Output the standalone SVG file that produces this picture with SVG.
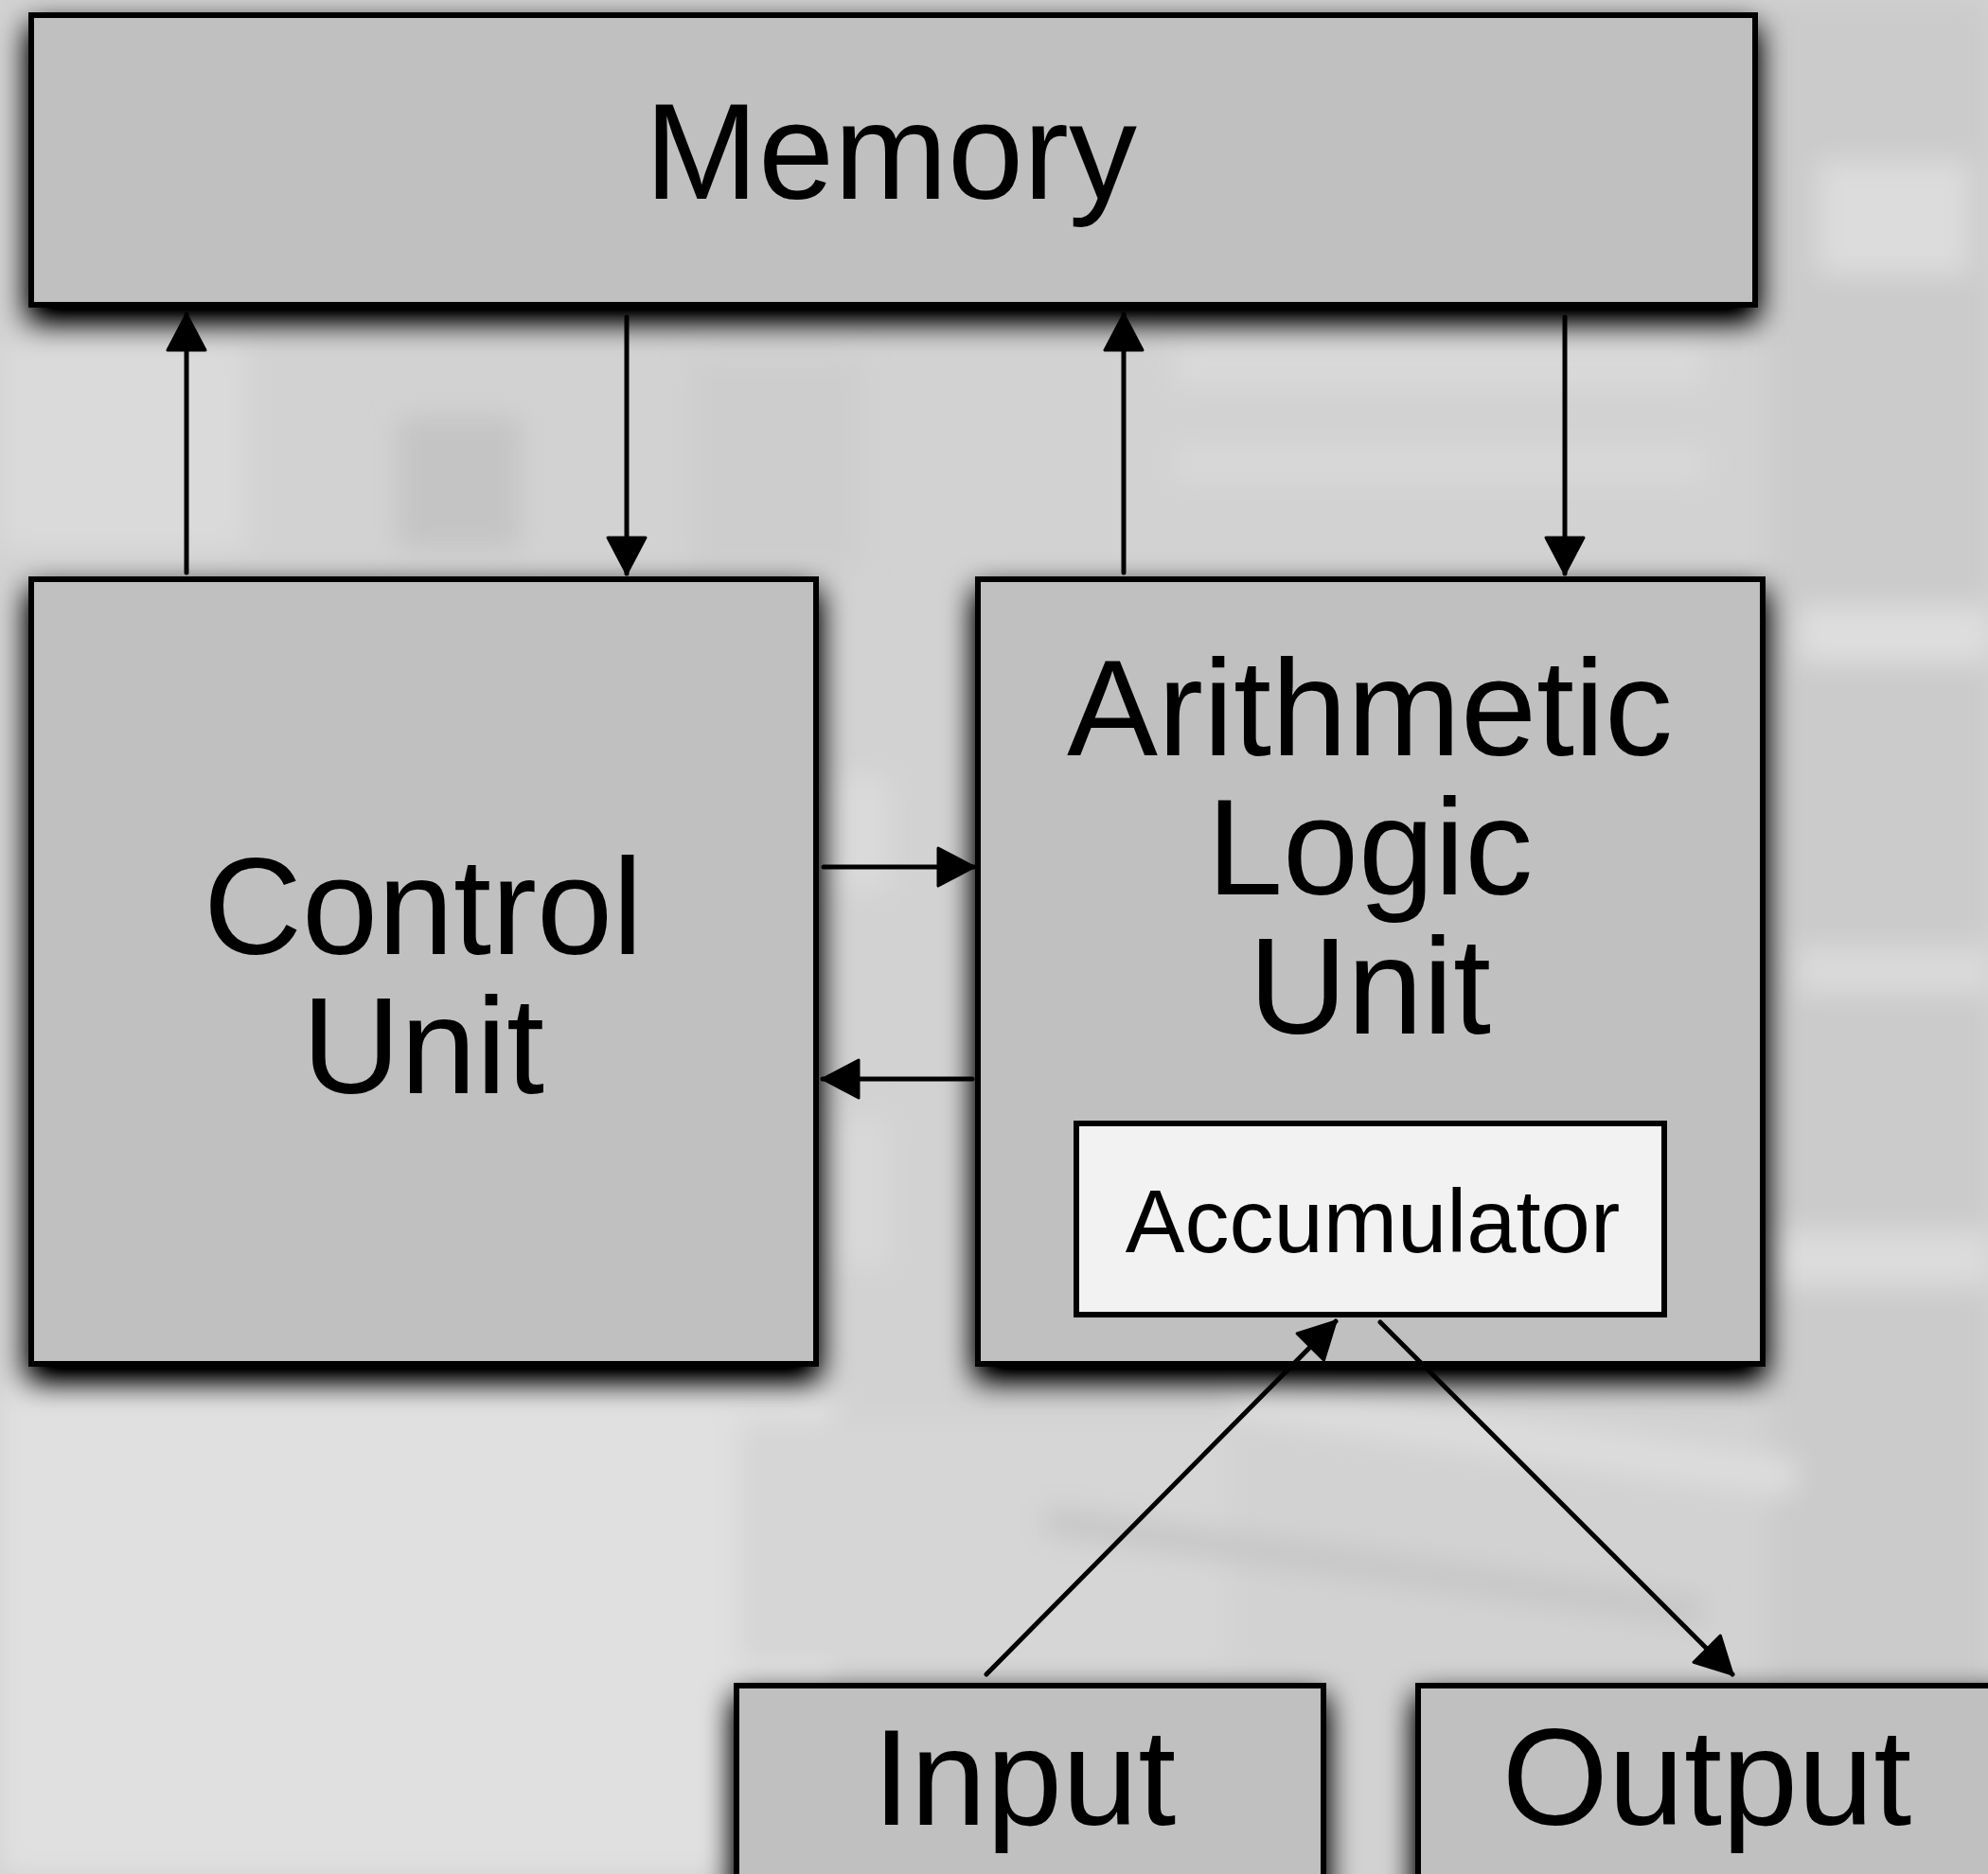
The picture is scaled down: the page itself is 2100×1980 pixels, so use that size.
<svg xmlns="http://www.w3.org/2000/svg" width="2100" height="1980" viewBox="0 0 2100 1980">
  <defs>
    <style>
      .box { fill: #c0c0c0; stroke: #000; stroke-width: 6; filter: url(#shadow); }
      .inner { fill: #f2f2f2; stroke: #000; stroke-width: 6; }
      .label { font-family: "Liberation Sans", Arial, sans-serif; font-size: 144px; fill: #000; text-anchor: middle; }
      .small { font-size: 94px; }
      .wire { fill: none; stroke: #000; stroke-width: 5; stroke-linecap: round; marker-end: url(#head); }
    </style>
    <filter id="shadow" x="-10%" y="-20%" width="120%" height="160%">
      <feGaussianBlur in="SourceAlpha" stdDeviation="16"/>
      <feOffset dx="0" dy="14" result="soft"/>
      <feComponentTransfer in="soft" result="dark">
        <feFuncA type="linear" slope="1.3"/>
      </feComponentTransfer>
      <feMerge>
        <feMergeNode in="dark"/>
        <feMergeNode in="SourceGraphic"/>
      </feMerge>
    </filter>
    <filter id="haze" x="-20%" y="-20%" width="140%" height="140%">
      <feGaussianBlur stdDeviation="14"/>
    </filter>
    <marker id="head" viewBox="-3 -24 44 48" markerWidth="44" markerHeight="48" refX="38" refY="0" orient="auto" markerUnits="userSpaceOnUse">
      <path d="M0,-20 L38,0 L0,20 Z" fill="#000" stroke="#000" stroke-width="3" stroke-linejoin="round"/>
    </marker>
  </defs>

  <!-- soft photographic backdrop -->
  <g id="backdrop">
    <rect x="0" y="0" width="2100" height="1980" fill="#d2d2d2"/>
    <g filter="url(#haze)">
      <rect x="0" y="1460" width="880" height="520" fill="#e0e0e0"/>
      <rect x="780" y="1500" width="520" height="260" fill="#d6d6d6"/>
      <rect x="0" y="360" width="260" height="220" fill="#dadada"/>
      <rect x="420" y="440" width="130" height="140" fill="#c4c4c4"/>
      <rect x="730" y="380" width="180" height="220" fill="#cdcdcd"/>
      <rect x="1870" y="0" width="230" height="1980" fill="#cbcbcb"/>
      <rect x="1920" y="170" width="160" height="120" fill="#dcdcdc"/>
      <rect x="1900" y="640" width="200" height="60" fill="#dedede"/>
      <rect x="1900" y="1000" width="200" height="50" fill="#dadada"/>
      <rect x="1870" y="1300" width="230" height="60" fill="#dcdcdc"/>
      <rect x="1300" y="1500" width="600" height="40" fill="#dddddd" transform="rotate(8 1600 1520)"/>
      <rect x="1100" y="1640" width="700" height="30" fill="#c6c6c6" transform="rotate(8 1450 1655)"/>
      <rect x="1240" y="360" width="560" height="50" fill="#d9d9d9"/>
      <rect x="1240" y="470" width="560" height="40" fill="#d8d8d8"/>
      <rect x="880" y="820" width="60" height="120" fill="#dadada"/>
      <rect x="880" y="1180" width="60" height="160" fill="#d8d8d8"/>
    </g>
  </g>

  <g id="memory">
    <rect class="box" x="33" y="16" width="1821" height="306"/>
    <text class="label" x="941" y="210">Memory</text>
  </g>

  <g id="control-unit">
    <rect class="box" x="33" y="612" width="829" height="829"/>
    <text class="label" x="447" y="1008">Control</text>
    <text class="label" x="447" y="1155">Unit</text>
  </g>

  <g id="alu">
    <rect class="box" x="1033" y="612" width="829" height="829"/>
    <text class="label" x="1447" y="798">Arithmetic</text>
    <text class="label" x="1447" y="945">Logic</text>
    <text class="label" x="1447" y="1092">Unit</text>
  </g>

  <g id="accumulator">
    <rect class="inner" x="1137" y="1187" width="621" height="202"/>
    <text class="label small" x="1450" y="1323">Accumulator</text>
  </g>

  <g id="input">
    <rect class="box" x="778" y="1781" width="620" height="260"/>
    <text class="label" x="1082" y="1928">Input</text>
  </g>

  <g id="output">
    <rect class="box" x="1498" y="1781" width="620" height="260"/>
    <text class="label" x="1803" y="1928">Output</text>
  </g>

  <!-- connectors, drawn over the boxes -->
  <g id="connectors">
    <path class="wire" d="M197,605 L197,332"/>
    <path class="wire" d="M662,335 L662,606"/>
    <path class="wire" d="M1187,605 L1187,332"/>
    <path class="wire" d="M1653,335 L1653,606"/>
    <path class="wire" d="M870,916 L1029,916"/>
    <path class="wire" d="M1027,1140 L869,1140"/>
    <path class="wire" d="M1042,1769 L1411,1396"/>
    <path class="wire" d="M1458,1397 L1830,1769"/>
  </g>
</svg>
